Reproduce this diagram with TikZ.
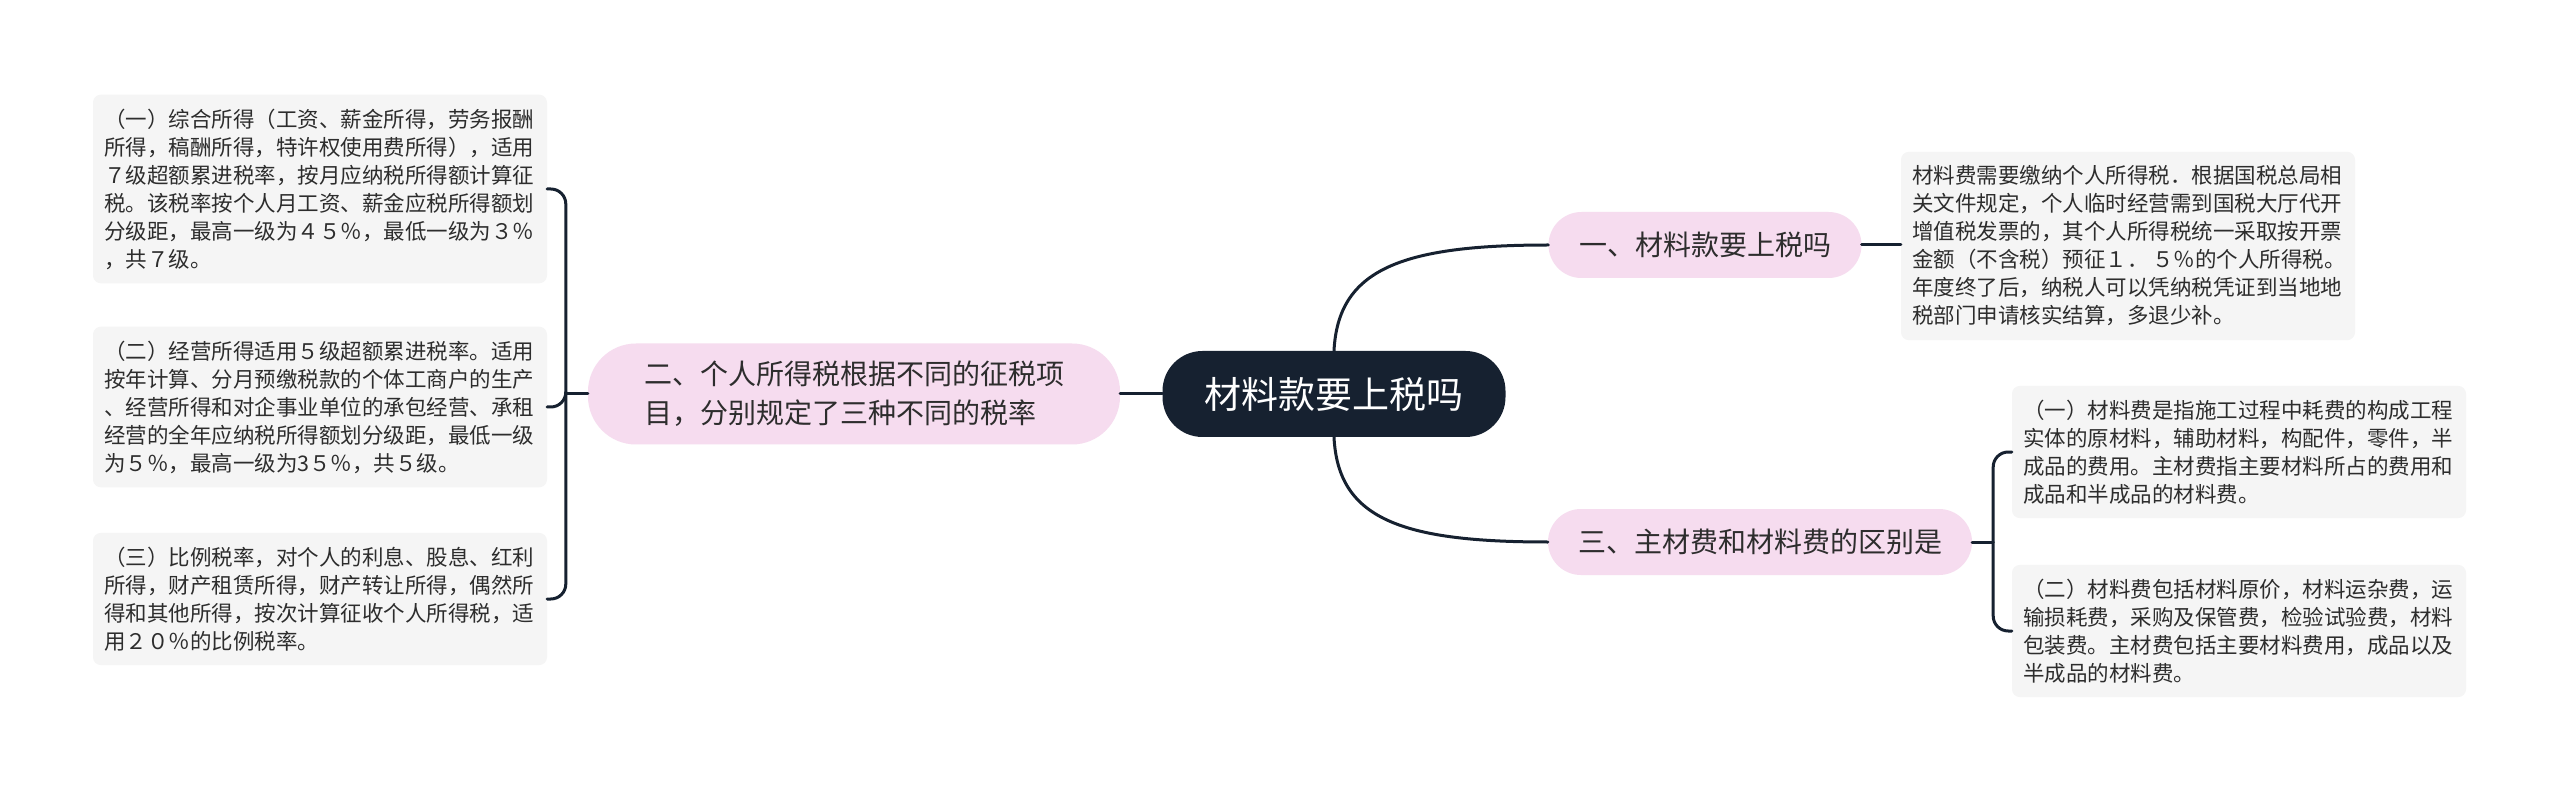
\documentclass[tikz,border=0pt]{standalone}
\usepackage{fontspec}
\setmainfont{Noto Sans CJK SC}
\definecolor{inkblue}{RGB}{22,33,48}
\definecolor{topicpink}{RGB}{246,220,239}
\definecolor{leafgray}{RGB}{245,245,245}
\definecolor{textgray}{RGB}{45,45,45}
\tikzset{
  rootnode/.style={fill=inkblue,text=white,rounded corners=40pt,minimum height=86pt,
    font=\fontsize{37pt}{44pt}\selectfont},
  topic/.style={fill=topicpink,text=textgray,rounded corners=33pt,minimum height=66pt,
    font=\fontsize{28pt}{39pt}\selectfont},
  leaf/.style={fill=leafgray,text=textgray,rounded corners=8pt,align=left,
    text width=432pt,inner xsep=11pt,inner ysep=14pt,
    font=\fontsize{21.5pt}{28pt}\selectfont},
  link/.style={draw=inkblue,line width=3pt},
  brace/.style={link,rounded corners=15pt}
}
\begin{document}
\begin{tikzpicture}[x=1pt,y=-1pt,line join=round,line cap=round]
	\fill[white] (0,0) rectangle (2560,791);
	\useasboundingbox (0,0) rectangle (2560,791);
	% centre and main branches
	\node[rootnode,minimum width=343pt] (root) at (1334,394) {材料款要上税吗};
	\node[topic,minimum width=532pt,minimum height=101pt,rounded corners=48pt,align=left] (two) at (854,394)
		{二、个人所得税根据不同的征税项\\目，分别规定了三种不同的税率};
	\node[topic,minimum width=313pt] (one) at (1705,245) {一、材料款要上税吗};
	\node[topic,minimum width=424pt] (three) at (1760,542) {三、主材费和材料费的区别是};
	% leaves
	\node[leaf] (info) at (2128,246) {材料费需要缴纳个人所得税．根据国税总局相\\关文件规定，个人临时经营需到国税大厅代开\\增值税发票的，其个人所得税统一采取按开票\\金额（不含税）预征１．\,５％的个人所得税。\\年度终了后，纳税人可以凭纳税凭证到当地地\\税部门申请核实结算，多退少补。};
	\node[leaf] (rone) at (2239,452) {（一）材料费是指施工过程中耗费的构成工程\\实体的原材料，辅助材料，构配件，零件，半\\成品的费用。主材费指主要材料所占的费用和\\成品和半成品的材料费。};
	\node[leaf] (rtwo) at (2239,631) {（二）材料费包括材料原价，材料运杂费，运\\输损耗费，采购及保管费，检验试验费，材料\\包装费。主材费包括主要材料费用，成品以及\\半成品的材料费。};
	\node[leaf] (lone) at (320,189) {（一）综合所得（工资、薪金所得，劳务报酬\\所得，稿酬所得，特许权使用费所得），适用\\７级超额累进税率，按月应纳税所得额计算征\\税。该税率按个人月工资、薪金应税所得额划\\分级距，最高一级为４５％，最低一级为３％\\，共７级。};
	\node[leaf] (ltwo) at (320,407) {（二）经营所得适用５级超额累进税率。适用\\按年计算、分月预缴税款的个体工商户的生产\\、经营所得和对企事业单位的承包经营、承租\\经营的全年应纳税所得额划分级距，最低一级\\为５％，最高一级为3５％，共５级。};
	\node[leaf] (lthree) at (320,599) {（三）比例税率，对个人的利息、股息、红利\\所得，财产租赁所得，财产转让所得，偶然所\\得和其他所得，按次计算征收个人所得税，适\\用２０％的比例税率。};
	% connectors
	\draw[link] (root.west) -- (two.east);
	\draw[link] (root.north) .. controls +(4,-81) and +(-148,0) .. (one.west);
	\draw[link] (root.south) .. controls +(4,81) and +(-148,0) .. (three.west);
	\draw[link] (one.east) -- (one.east -| info.west);
	\draw[link] (three.east) -- ++(21,0) coordinate (rj);
	\draw[brace] (rj) |- (rone.west);
	\draw[brace] (rj) |- (rtwo.west);
	\draw[link] (two.west) -- ++(-22,0) coordinate (lj);
	\draw[brace] (lj) |- (lone.east);
	\draw[brace] (lj) |- (ltwo.east);
	\draw[brace] (lj) |- (lthree.east);
\end{tikzpicture}
\end{document}
